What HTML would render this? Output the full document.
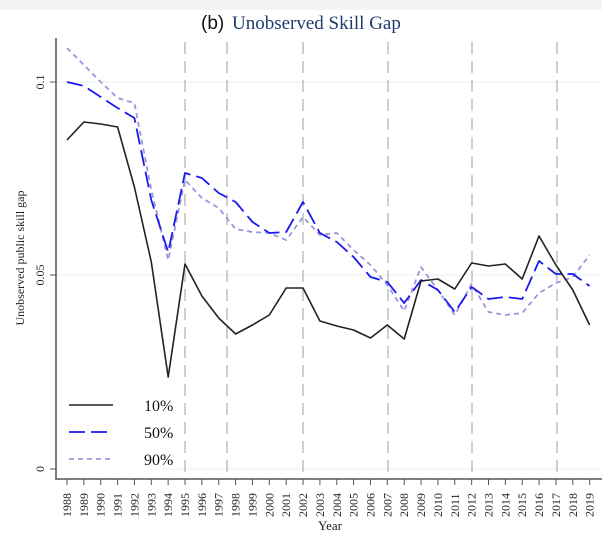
<!DOCTYPE html>
<html><head><meta charset="utf-8"><style>
body{margin:0;background:#fff;}
svg{display:block;font-family:"Liberation Serif",serif;}
</style></head><body>
<svg width="602" height="534" viewBox="0 0 602 534">
<rect x="0" y="0" width="602" height="10" fill="#f4f4f4"/>
<text x="201" y="29" font-family="Liberation Sans, sans-serif" font-size="19" fill="#111">(b)</text>
<text x="232" y="29" font-size="19" fill="#1f3b6e">Unobserved Skill Gap</text>
<line x1="56" y1="82" x2="602" y2="82" stroke="#e6efef" stroke-width="1"/>
<line x1="56" y1="275" x2="602" y2="275" stroke="#e6efef" stroke-width="1"/>
<line x1="56" y1="469" x2="602" y2="469" stroke="#e6efef" stroke-width="1"/>
<g stroke="#cfcfcf" stroke-width="2" stroke-dasharray="12,7">
<line x1="185" y1="42" x2="185" y2="478"/>
<line x1="227" y1="42" x2="227" y2="478"/>
<line x1="303" y1="42" x2="303" y2="478"/>
<line x1="388" y1="42" x2="388" y2="478"/>
<line x1="472" y1="42" x2="472" y2="478"/>
<line x1="557" y1="42" x2="557" y2="478"/>
</g>
<g fill="none" stroke-linejoin="round">
<polyline stroke="#9b95dd" stroke-width="1.8" stroke-dasharray="5,4" points="67,48 83.9,65 100.7,82 117.6,98 134.4,103 151.3,190 168.2,260 185,180 201.9,198 218.7,208 235.6,229 252.5,232 269.3,233 286.2,240 303,217 319.9,235 336.8,233 353.6,250 370.5,265 387.3,285 404.2,311 421,267 437.9,290 454.8,315 471.6,284 488.5,312 505.3,315 522.2,313 539,293 555.9,283 572.8,277 589.6,255"/>
<polyline stroke="#1a1aee" stroke-width="1.8" stroke-dasharray="16,6" points="67,82 83.9,86 100.7,97 117.6,108 134.4,118 151.3,200 168.2,252 185,173 201.9,178 218.7,193 235.6,202 252.5,222 269.3,233 286.2,232 303,202 319.9,233 336.8,242 353.6,257 370.5,277 387.3,282 404.2,303 421,280 437.9,290 454.8,312 471.6,287 488.5,299 505.3,297 522.2,299 539,261 555.9,274 572.8,274 589.6,286"/>
<polyline stroke="#222" stroke-width="1.6" points="67,140 83.9,122 100.7,124 117.6,127 134.4,187 151.3,262 168.2,377 185,264 201.9,296 218.7,318 235.6,334 252.5,325 269.3,315 286.2,288 303,288 319.9,321 336.8,326 353.6,330 370.5,338 387.3,325 404.2,339 421,281 437.9,279 454.8,289 471.6,263 488.5,266 505.3,264 522.2,279 539,236 555.9,265 572.8,290 589.6,325"/>
</g>
<rect x="58" y="386" width="104" height="88" fill="#fff"/>
<line x1="69" y1="405" x2="113" y2="405" stroke="#222" stroke-width="1.6"/>
<line x1="69" y1="432" x2="113" y2="432" stroke="#1a1aee" stroke-width="1.8" stroke-dasharray="16,6"/>
<line x1="69" y1="459" x2="113" y2="459" stroke="#9b95dd" stroke-width="1.8" stroke-dasharray="5,4"/>
<g font-size="16" fill="#111">
<text x="144" y="411">10%</text>
<text x="144" y="438">50%</text>
<text x="144" y="465">90%</text>
</g>
<line x1="56" y1="38" x2="56" y2="479" stroke="#555" stroke-width="1.5"/>
<line x1="55" y1="479" x2="602" y2="479" stroke="#555" stroke-width="1.5"/>
<g stroke="#555" stroke-width="1">
<line x1="50" y1="82" x2="56" y2="82"/><line x1="50" y1="275" x2="56" y2="275"/><line x1="50" y1="469" x2="56" y2="469"/>
</g>
<g font-size="12" fill="#222" text-anchor="middle">
<text transform="translate(44,82) rotate(-90)">0.1</text>
<text transform="translate(44,275) rotate(-90)">0.05</text>
<text transform="translate(44,469) rotate(-90)">0</text>
<text transform="translate(24,258) rotate(-90)" font-size="12">Unobserved public skill gap</text>
<text x="330" y="530" font-size="13">Year</text>
</g>
<g id="xt" stroke="#555" stroke-width="1"></g>
<g font-size="12" fill="#222" id="xl"></g>
<script>
var g=document.getElementById('xt'),l=document.getElementById('xl'),ns='http://www.w3.org/2000/svg';
for(var i=0;i<32;i++){var x=67+16.86*i;
var t=document.createElementNS(ns,'line');t.setAttribute('x1',x);t.setAttribute('x2',x);t.setAttribute('y1',479);t.setAttribute('y2',485);g.appendChild(t);
var s=document.createElementNS(ns,'text');s.setAttribute('transform','translate('+(x+4)+',517) rotate(-90)');s.textContent=1988+i;l.appendChild(s);}
</script>
</svg>
</body></html>
